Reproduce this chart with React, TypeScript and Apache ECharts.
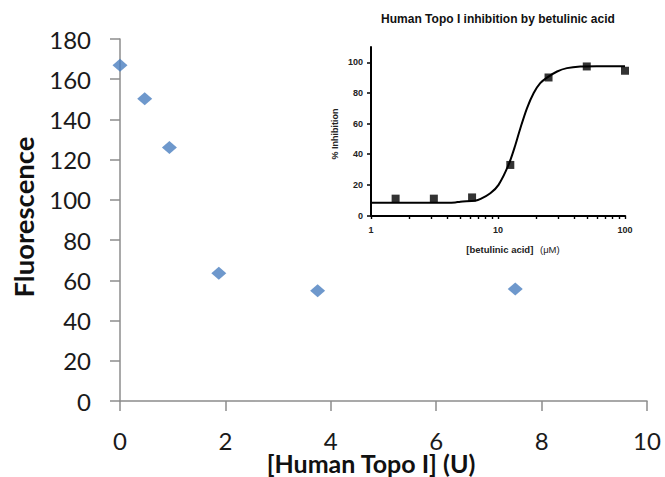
import React, { useEffect, useRef } from "react";
import * as echarts from "echarts";

// Main chart: fluorescence vs Human Topo I units
const topoUnits = [0, 0.46875, 0.9375, 1.875, 3.75, 7.5];
const fluorescence = [167, 150.3, 126, 63.5, 54.8, 55.7];

// Inset: % inhibition vs betulinic acid concentration (µM)
const betulinicConc = [1.5625, 3.125, 6.25, 12.5, 25, 50, 100];
const inhibition = [11, 11, 11.8, 33, 90.1, 97.3, 94.5];

// Fitted curve of the inset
const fitConc = [1, 2, 3, 4, 4.6, 5.05, 6.6, 7.3, 8.7, 10.1, 12.1, 13.7, 15, 16.9, 19.1, 21.5, 24.3, 29.2, 34.9, 44.5, 60, 80, 100];
const fitInhibition = [8.3, 8.3, 8.3, 8.3, 8.5, 9.0, 9.7, 10.8, 14.5, 20, 33, 46, 57, 70, 80, 86.4, 90, 94, 96.2, 97.3, 97.5, 97.5, 97.5];

const insetYTicks = [0, 20, 40, 60, 80, 100];
const insetXLabels = [1, 10, 100];
const insetXTicks = [1, 2, 3, 4, 5, 6, 7, 8, 9, 10, 20, 30, 40, 50, 60, 70, 80, 90, 100];

const mainTitleX = "[Human Topo I] (U)";
const mainTitleY = "Fluorescence";
const insetTitle = "Human Topo I inhibition by betulinic acid";
const insetYName = "% Inhibition";

export default function App() {
  const ref = useRef<HTMLDivElement>(null);

  useEffect(() => {
    if (!ref.current) return;
    const chart = echarts.init(ref.current, undefined, { renderer: "svg" });
    const mainFont = "Lato, 'Open Sans', sans-serif";
    const insetFont = "'Liberation Sans', Arial, sans-serif";
    const axisGray = "#8c8c8c";
    const option: any = {
      animation: false,
      backgroundColor: "#ffffff",
      grid: [
        { left: 120, top: 39, width: 527, height: 362 },
        { left: 371, top: 47, width: 254, height: 168.5 },
      ],
      xAxis: [
        {
          gridIndex: 0,
          type: "value",
          position: "bottom",
          min: 0,
          max: 10,
          interval: 2,
          splitLine: { show: false },
          axisLine: { lineStyle: { color: axisGray, width: 1.5 } },
          axisTick: { show: true, length: 10, lineStyle: { color: axisGray, width: 1.5 } },
          axisLabel: { fontFamily: mainFont, fontSize: 24, color: "#1a1a1a", margin: 27 },
        },
        {
          gridIndex: 1,
          type: "log",
          position: "bottom",
          logBase: 10,
          min: 1,
          max: 100,
          splitLine: { show: false },
          axisLine: { lineStyle: { color: "#000", width: 2 } },
          axisTick: { show: true, length: 3.5, customValues: insetXTicks, lineStyle: { color: "#000", width: 1.4 } },
          axisLabel: { fontFamily: insetFont, fontSize: 9, fontWeight: "bold", color: "#222", margin: 10, customValues: insetXLabels },
        },
      ],
      yAxis: [
        {
          gridIndex: 0,
          type: "value",
          position: "left",
          min: 0,
          max: 180,
          interval: 20,
          splitLine: { show: false },
          axisLine: { show: true, lineStyle: { color: axisGray, width: 1.5 } },
          axisTick: { show: true, length: 10, lineStyle: { color: axisGray, width: 1.5 } },
          axisLabel: { fontFamily: mainFont, fontSize: 24, color: "#1a1a1a", margin: 29 },
        },
        {
          gridIndex: 1,
          type: "value",
          position: "left",
          min: 0,
          max: 110,
          splitLine: { show: false },
          axisLine: { show: true, lineStyle: { color: "#000", width: 2 } },
          axisTick: { show: true, length: 4, customValues: insetYTicks, lineStyle: { color: "#000", width: 1.5 } },
          axisLabel: { fontFamily: insetFont, fontSize: 9, fontWeight: "bold", color: "#222", margin: 8, customValues: insetYTicks },
        },
      ],
      series: [
        {
          type: "scatter",
          xAxisIndex: 0,
          yAxisIndex: 0,
          symbol: "diamond",
          symbolSize: [15, 13],
          itemStyle: { color: "#4a7ebf" },
          data: topoUnits.map((x, i) => [x, fluorescence[i]]),
        },
        {
          type: "line",
          xAxisIndex: 1,
          yAxisIndex: 1,
          showSymbol: false,
          symbol: "none",
          smooth: 0.3,
          lineStyle: { color: "#000", width: 2 },
          data: fitConc.map((x, i) => [x, fitInhibition[i]]),
          z: 3,
        },
        {
          type: "scatter",
          xAxisIndex: 1,
          yAxisIndex: 1,
          symbol: "rect",
          symbolSize: 8,
          itemStyle: { color: "#000" },
          data: betulinicConc.map((x, i) => [x, inhibition[i]]),
          z: 4,
        },
      ],
      graphic: [
        {
          type: "text",
          x: 23,
          y: 217,
          rotation: Math.PI / 2,
          style: {
            text: mainTitleY,
            fontFamily: mainFont,
            fontSize: 27.5,
            fontWeight: "bold",
            fill: "#111",
            align: "center",
            verticalAlign: "middle",
          },
        },
        {
          type: "text",
          x: 371,
          y: 463,
          style: {
            text: mainTitleX,
            fontFamily: mainFont,
            fontSize: 25,
            fontWeight: "bold",
            fill: "#111",
            align: "center",
            verticalAlign: "middle",
          },
        },
        {
          type: "text",
          x: 498,
          y: 19,
          style: {
            text: insetTitle,
            fontFamily: insetFont,
            fontSize: 12,
            fontWeight: "bold",
            fill: "#111",
            align: "center",
            verticalAlign: "middle",
          },
        },
        {
          type: "text",
          x: 335,
          y: 134,
          rotation: Math.PI / 2,
          style: {
            text: insetYName,
            fontFamily: insetFont,
            fontSize: 9,
            fontWeight: "bold",
            fill: "#222",
            align: "center",
            verticalAlign: "middle",
          },
        },
        {
          type: "text",
          x: 513,
          y: 249,
          style: {
            text: "{b|[betulinic acid]}  {n|(\u03bcM)}",
            align: "center",
            verticalAlign: "middle",
            rich: {
              b: { fontFamily: insetFont, fontSize: 9.5, fontWeight: "bold", fill: "#222" },
              n: { fontFamily: insetFont, fontSize: 9.5, fontWeight: "normal", fill: "#222" },
            },
          },
        },
      ],
    };
    chart.setOption(option);
    return () => chart.dispose();
  }, []);

  return (
    <div
      ref={ref}
      style={{ position: "fixed", left: 0, top: 0, width: 665, height: 477, background: "#fff" }}
    />
  );
}
